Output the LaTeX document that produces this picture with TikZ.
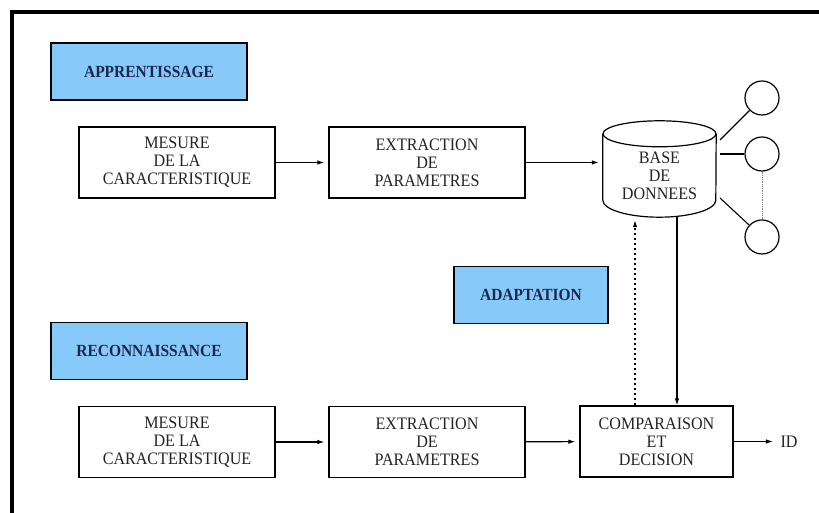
\documentclass[tikz,border=0pt]{standalone}
\usepackage{fontspec}
\setmainfont{Liberation Serif}
\newfontfamily\boxfont[FakeStretch=0.92]{Liberation Serif}
\newfontfamily\phasefont[FakeStretch=0.91]{Liberation Serif}
\usetikzlibrary{positioning,arrows,arrows.meta,calc}

\definecolor{phaseblue}{RGB}{135,202,250}
\definecolor{phaseink}{RGB}{28,38,78}
\definecolor{boxink}{RGB}{35,35,35}

\begin{document}
\begin{tikzpicture}[x=1pt,y=1pt,
						every node/.style={on grid},
						block/.style={draw, line width=1.2pt, minimum width=196pt, minimum height=71pt, align=center, inner sep=0pt, text=boxink, font=\boxfont\fontsize{17.5}{18}\selectfont},
						phase/.style={draw, line width=1.2pt, fill=phaseblue, text=phaseink, minimum width=196pt, minimum height=57pt, inner sep=0pt, font=\phasefont\fontsize{17}{17}\selectfont\bfseries},
						leaf/.style={draw, circle, line width=1.2pt, minimum size=34pt, inner sep=0pt},
						link/.style={->, line width=1.1pt, shorten >=4pt},
						node distance=250pt,
						>={Latex[length=7pt,width=4.5pt]}]
					\useasboundingbox (0,0) rectangle (819,513);
					\draw[line width=4pt] (12,0) -- (12,501) -- (819,501);
					
					% apprentissage
					\node[phase] (appr) at (149,441.5) {APPRENTISSAGE};
					\node[block] (mes1) at (177,350.5) {MESURE\\DE LA\\CARACTERISTIQUE};
					\node[block, right= of mes1] (ext1) {EXTRACTION\\DE\\PARAMETRES};
					\node[align=center, minimum width=113pt, minimum height=83pt, inner sep=0pt, text=boxink, font=\boxfont\fontsize{17.5}{18}\selectfont] (db) at (659.5,337.5) {BASE\\DE\\DONNEES};
					\draw[line width=1.2pt] (db.north) ellipse (56.5 and 13);
					\draw[line width=1.2pt] (db.north west) -- ([yshift=17pt]db.south west) arc (180:360:56.5 and 17) -- (db.north east);
					
					\node[leaf] (c1) at (762,415) {};
					\node[leaf, below=56pt of c1] (c2) {};
					\node[leaf, below=83pt of c2] (c3) {};
					\coordinate (s1) at (720,373);
					\coordinate (s2) at (720,359);
					\coordinate (s3) at (720,315);
					\draw[line width=1.1pt] (s1) -- (c1);
					\draw[line width=1.1pt] (s2) -- (c2);
					\draw[line width=1.1pt] (s3) -- (c3);
					\draw[densely dotted, gray, line width=0.8pt] (c2) -- (c3);
					
					\draw[link] (mes1) -- (ext1);
					\draw[link] (ext1.east) -- (ext1.east -| db.west);
					
					% reconnaissance
					\node[phase, minimum width=154pt] (adapt) at (531,218) {ADAPTATION};
					\node[phase] (reco) at (149,162) {RECONNAISSANCE};
					\node[block] (mes2) at (177,71) {MESURE\\DE LA\\CARACTERISTIQUE};
					\node[block, right= of mes2] (ext2) {EXTRACTION\\DE\\PARAMETRES};
					\node[block, minimum width=153pt] (comp) at (656.5,71.5) {COMPARAISON\\ET\\DECISION};
					\node[right=132.5pt of comp, text=boxink, font=\boxfont\fontsize{17.5}{18}\selectfont] (id) {ID};
					
					\draw[link] (mes2) -- (ext2);
					\draw[link] (ext2) -- (comp);
					\draw[link] (comp) -- (id);
					\draw[->, line width=1.1pt] ([xshift=17.5pt]db.south) -- ([xshift=20.5pt]comp.north);
					\draw[->, line width=1.1pt, dash pattern=on 2.5pt off 2.5pt] ([xshift=-21.5pt]comp.north) -- ([xshift=-24.5pt,yshift=-3pt]db.south);
				\end{tikzpicture}
\end{document}
